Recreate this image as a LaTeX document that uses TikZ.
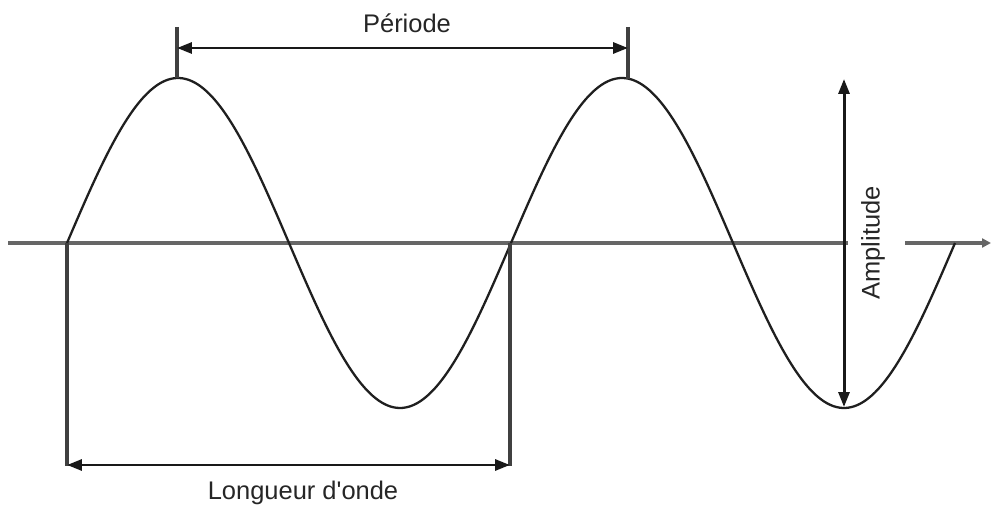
\documentclass[tikz,border=0pt]{standalone}
\usepackage{fontspec}
\setmainfont{Liberation Sans}
\usetikzlibrary{arrows.meta}
\begin{document}
\begin{tikzpicture}[x=0.02cm,y=-0.02cm,
  axisline/.style={line width=2pt,draw=black!60},
  waveline/.style={line width=1.3pt,draw=black!88},
  dimline/.style={line width=1.7pt,draw=black!90},
  guide/.style={line width=1.8pt,draw=black!75},
  dimarrow/.style={dimline,{Triangle[length=0.3cm,width=0.22cm]}-{Triangle[length=0.3cm,width=0.22cm]}},
  lbl/.style={font=\fontsize{14.5}{16}\selectfont,text=black!85,inner sep=0pt}]
\useasboundingbox (0,0) rectangle (991,506);
% axis
\coordinate (axL) at (8,243);
\coordinate (axM) at (848,243);
\coordinate (axR0) at (905,243);
\coordinate (axR) at (991,243);
\draw[axisline] (axL) -- (axM);
\draw[axisline,-{Triangle[length=0.18cm,width=0.18cm]}] (axR0) -- (axR);
% wave
\draw[waveline] plot[domain=67:955,samples=300,smooth] (\x,{243-165*sin(0.810811*(\x-67))});
% period
\coordinate (p1t) at (177,27);
\coordinate (p1b) at (177,78);
\coordinate (p2t) at (628,27);
\coordinate (p2b) at (628,79);
\coordinate (p1a) at (177,48);
\coordinate (p2a) at (628,48);
\draw[guide] (p1t) -- (p1b);
\draw[guide] (p2t) -- (p2b);
\draw[dimarrow] (p1a) -- (p2a);
\node[lbl] (per) at (407,23) {Période};
% wavelength
\coordinate (w1t) at (67,243);
\coordinate (w1b) at (67,466);
\coordinate (w2t) at (510,243);
\coordinate (w2b) at (510,466);
\coordinate (wa1) at (67,465);
\coordinate (wa2) at (510,465);
\draw[guide] (w1t) -- (w1b);
\draw[guide] (w2t) -- (w2b);
\draw[dimarrow] (wa1) -- (wa2);
\node[lbl] (lo) at (303,493) {Longueur d\textquotesingle onde};
% amplitude
\coordinate (at) at (844,79);
\coordinate (ab) at (844,407);
\draw[dimarrow] (at) -- (ab);
\node[lbl,rotate=90] (amp) at (873,243) {Amplitude};
\end{tikzpicture}
\end{document}
